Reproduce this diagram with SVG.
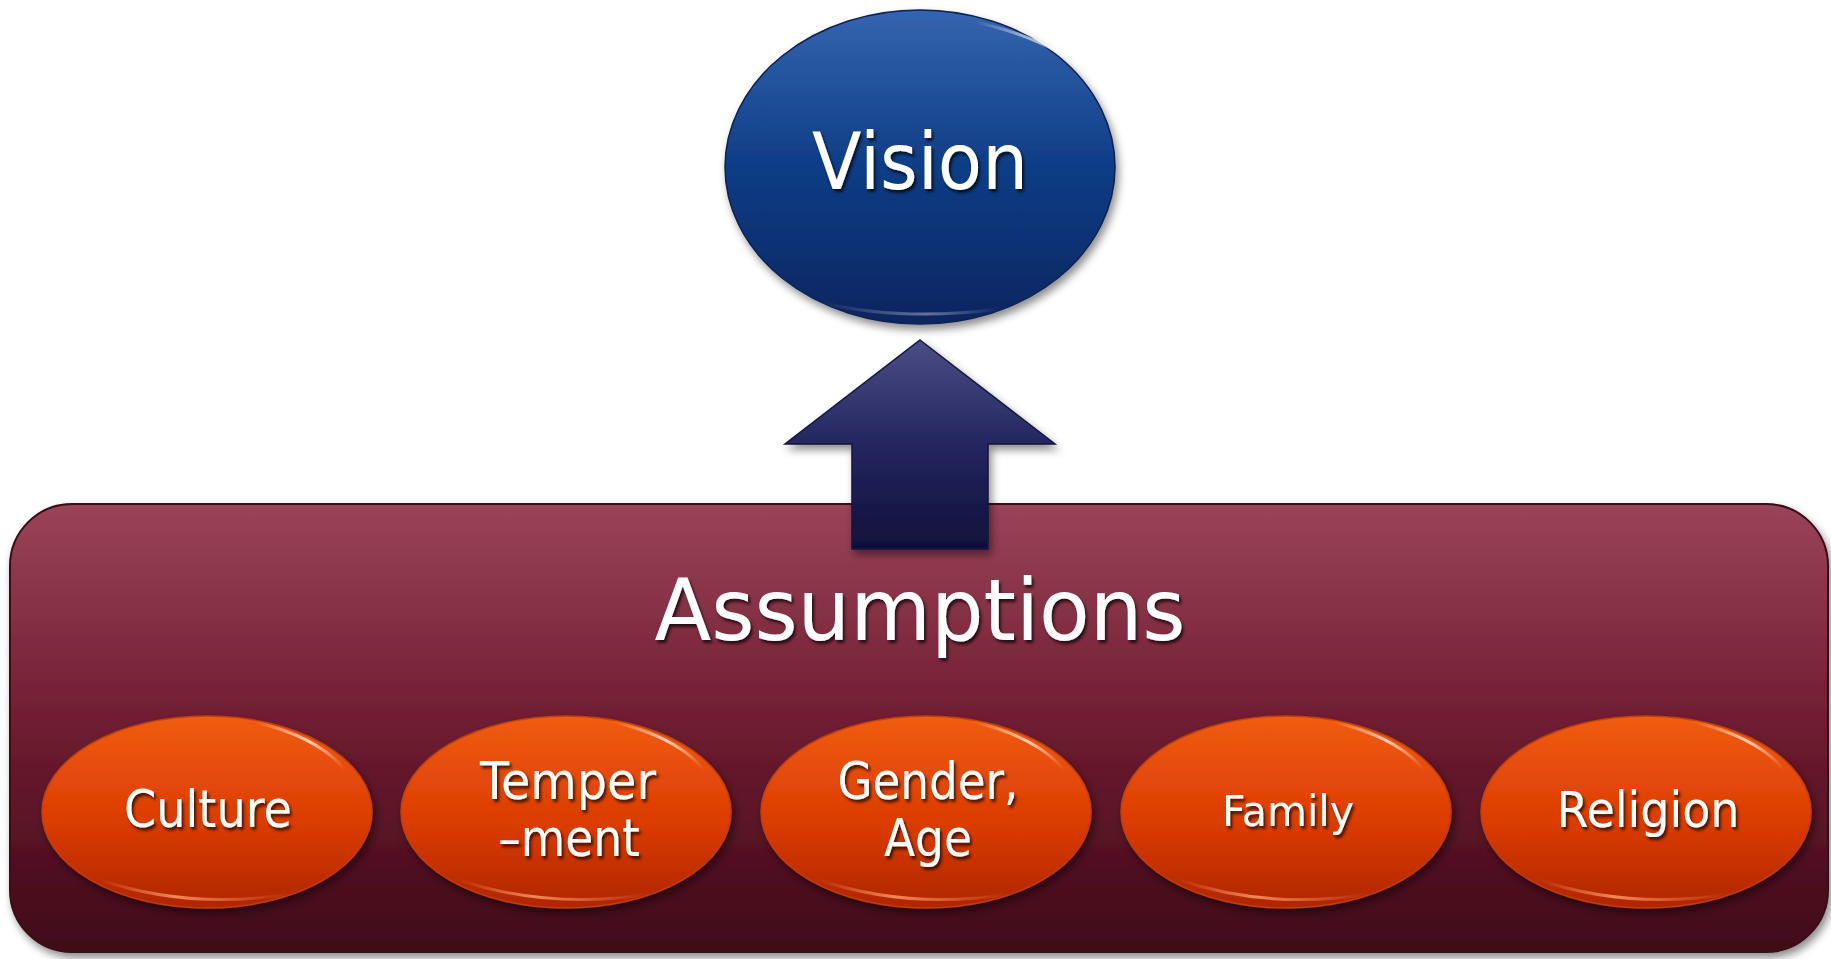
<svg xmlns="http://www.w3.org/2000/svg" width="1831" height="959" viewBox="0 0 1831 959">
<defs>
<linearGradient id="gBlue" x1="0" y1="0" x2="0" y2="1">
<stop offset="0" stop-color="#3465b0"/>
<stop offset="0.5" stop-color="#0e3d85"/>
<stop offset="1" stop-color="#0a2560"/>
</linearGradient>
<linearGradient id="gArrow" x1="0" y1="0" x2="0" y2="1">
<stop offset="0" stop-color="#4b4c86"/>
<stop offset="0.5" stop-color="#242660"/>
<stop offset="1" stop-color="#10103a"/>
</linearGradient>
<linearGradient id="gBox" x1="0" y1="0" x2="0" y2="1">
<stop offset="0" stop-color="#9a4458"/>
<stop offset="0.5" stop-color="#6e1c30"/>
<stop offset="1" stop-color="#3f0818"/>
</linearGradient>
<linearGradient id="gOrange" x1="0" y1="0" x2="0" y2="1">
<stop offset="0" stop-color="#f15c12"/>
<stop offset="0.55" stop-color="#dc3c02"/>
<stop offset="1" stop-color="#b02600"/>
</linearGradient>
<linearGradient id="gHi" x1="0" y1="0" x2="1" y2="0">
<stop offset="0" stop-color="#ffffff" stop-opacity="0"/>
<stop offset="0.6" stop-color="#ffffff" stop-opacity="0.7"/>
<stop offset="1" stop-color="#ffffff" stop-opacity="0"/>
</linearGradient>
<linearGradient id="gLo" x1="0" y1="0" x2="1" y2="0">
<stop offset="0" stop-color="#ffa070" stop-opacity="0"/>
<stop offset="0.4" stop-color="#ffa070" stop-opacity="0.8"/>
<stop offset="1" stop-color="#ffa070" stop-opacity="0"/>
</linearGradient>
<filter id="shadow" x="-10%" y="-10%" width="120%" height="130%">
<feDropShadow dx="3" dy="5" stdDeviation="4" flood-color="#000" flood-opacity="0.45"/>
</filter>
<filter id="tshadow" x="-10%" y="-20%" width="120%" height="150%">
<feDropShadow dx="2" dy="3" stdDeviation="1.5" flood-color="#000" flood-opacity="0.7"/>
</filter>
</defs>
<style>
text { font-family: "DejaVu Sans", "Liberation Sans", sans-serif; fill: #ffffff; text-anchor: middle; filter: url(#tshadow); }
.small { font-size: 52px; }
.oval { fill: url(#gOrange); stroke: #c0400a; stroke-width: 1.5; filter: url(#shadow); }
.hi { fill: none; stroke: url(#gHi); stroke-width: 3; stroke-linecap: round; }
.lo { fill: none; stroke: url(#gLo); stroke-width: 3; stroke-linecap: round; }
</style>
<rect width="1831" height="959" fill="#ffffff"/>

<g id="assumptions">
<rect x="10" y="504" width="1818" height="448" rx="62" ry="62" fill="url(#gBox)" stroke="#3a0a16" stroke-width="2" filter="url(#shadow)"/>
<text x="920" y="640" font-size="86" textLength="531" lengthAdjust="spacingAndGlyphs">Assumptions</text>
</g>

<g id="connectors">
<path id="arrow" d="M920,340 L1055,444 L988,444 L988,549 L852,549 L852,444 L785,444 Z" fill="url(#gArrow)" stroke="#15163f" stroke-width="1.5" filter="url(#shadow)"/>
</g>

<g id="vision">
<ellipse cx="920" cy="167" rx="195" ry="157" fill="url(#gBlue)" stroke="#0a2050" stroke-width="1.5" filter="url(#shadow)"/>
<path d="M975,22 Q1055,40 1085,74" class="hi"/>
<path d="M820,302 Q900,322 1000,309" class="hi" stroke-opacity="0.5"/>
<text x="920" y="189" font-size="78" textLength="216" lengthAdjust="spacingAndGlyphs">Vision</text>
</g>

<g id="culture">
<ellipse cx="207" cy="812" rx="165" ry="96" class="oval"/>
<path d="M255,722 Q320,738 345,770" class="hi"/>
<path d="M100,880 Q190,910 290,894" class="lo"/>
<text x="208" y="827" class="small" textLength="168" lengthAdjust="spacingAndGlyphs">Culture</text>
</g>

<g id="temperament">
<ellipse cx="566" cy="812" rx="165" ry="96" class="oval"/>
<path d="M614,722 Q679,738 704,770" class="hi"/>
<path d="M459,880 Q549,910 649,894" class="lo"/>
<text x="568" y="799" class="small" textLength="176" lengthAdjust="spacingAndGlyphs">Temper</text>
<text x="569" y="856" class="small" textLength="142" lengthAdjust="spacingAndGlyphs">–ment</text>
</g>

<g id="gender">
<ellipse cx="926" cy="812" rx="165" ry="96" class="oval"/>
<path d="M974,722 Q1039,738 1064,770" class="hi"/>
<path d="M819,880 Q909,910 1009,894" class="lo"/>
<text x="928" y="799" class="small" textLength="181" lengthAdjust="spacingAndGlyphs">Gender,</text>
<text x="928" y="856" class="small" textLength="88" lengthAdjust="spacingAndGlyphs">Age</text>
</g>

<g id="family">
<ellipse cx="1286" cy="812" rx="165" ry="96" class="oval"/>
<path d="M1334,722 Q1399,738 1424,770" class="hi"/>
<path d="M1179,880 Q1269,910 1369,894" class="lo"/>
<text x="1288" y="826" font-size="43" textLength="132" lengthAdjust="spacingAndGlyphs">Family</text>
</g>

<g id="religion">
<ellipse cx="1646" cy="812" rx="165" ry="96" class="oval"/>
<path d="M1694,722 Q1759,738 1784,770" class="hi"/>
<path d="M1539,880 Q1629,910 1729,894" class="lo"/>
<text x="1648" y="827" font-size="50" textLength="183" lengthAdjust="spacingAndGlyphs">Religion</text>
</g>
</svg>
